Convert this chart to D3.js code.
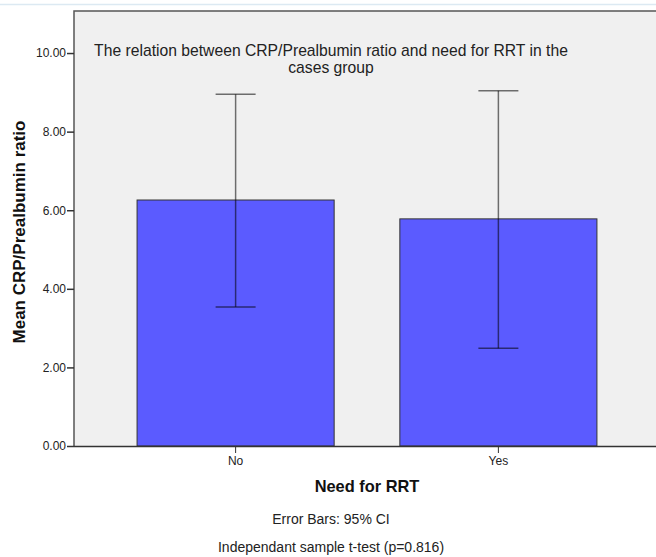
<!DOCTYPE html>
<html>
<head>
<meta charset="utf-8">
<script src="https://cdn.jsdelivr.net/npm/d3@7"></script>
<style>
  body { margin: 0; background: #fff; }
  svg { display: block; font-family: Arial, "Liberation Sans", sans-serif; }
</style>
</head>
<body>
<div id="chart"></div>
<script>
const categories = ['No', 'Yes'];
const means = [6.26, 5.78];
const ciLow = [3.54, 2.49];
const ciHigh = [8.95, 9.04];
const yTicks = [0, 2, 4, 6, 8, 10];

const width = 656, height = 557;
const plot = { left: 74, top: 11, right: 660, bottom: 446 };

var svg = d3.select('#chart').append('svg')
  .attr('width', width)
  .attr('height', height);

// thin frame line at the very top
svg.append('line')
  .attr('x1', 0).attr('x2', width)
  .attr('y1', 4.5).attr('y2', 4.5)
  .attr('stroke', '#dce9f2').attr('stroke-width', 1.5);

var xScale = d3.scaleBand()
  .domain(categories)
  .range([plot.left, plot.right])
  .paddingInner(0.25)
  .paddingOuter(0.24);

var yScale = d3.scaleLinear()
  .domain([0, 11.07])
  .range([plot.bottom, plot.top]);

// plot background
svg.append('rect')
  .attr('x', plot.left).attr('y', plot.top)
  .attr('width', plot.right - plot.left)
  .attr('height', plot.bottom - plot.top)
  .attr('fill', '#f0f0f0');

// bars
svg.selectAll('rect.bar')
  .data(categories)
  .enter().append('rect')
  .attr('class', 'bar')
  .attr('x', d => xScale(d))
  .attr('width', xScale.bandwidth())
  .attr('y', (d, i) => yScale(means[i]))
  .attr('height', (d, i) => yScale(0) - yScale(means[i]))
  .attr('fill', '#5b5bff')
  .attr('stroke', '#333')
  .attr('stroke-width', 1);

// error bars
var capHalf = 20;
var eb = svg.selectAll('g.err')
  .data(categories)
  .enter().append('g')
  .attr('class', 'err')
  .attr('stroke', 'rgba(0,0,0,0.55)')
  .attr('stroke-width', 1.5);

eb.append('line')
  .attr('x1', d => xScale(d) + xScale.bandwidth() / 2)
  .attr('x2', d => xScale(d) + xScale.bandwidth() / 2)
  .attr('y1', (d, i) => yScale(ciLow[i]))
  .attr('y2', (d, i) => yScale(ciHigh[i]));

[ciLow, ciHigh].forEach(function(arr) {
  eb.append('line')
    .attr('x1', d => xScale(d) + xScale.bandwidth() / 2 - capHalf)
    .attr('x2', d => xScale(d) + xScale.bandwidth() / 2 + capHalf)
    .attr('y1', (d, i) => yScale(arr[i]))
    .attr('y2', (d, i) => yScale(arr[i]));
});

// plot frame (left + top)
svg.append('path')
  .attr('d', `M${plot.left},${plot.bottom}V${plot.top}H${width}`)
  .attr('fill', 'none')
  .attr('stroke', '#555')
  .attr('stroke-width', 1.5);

// axes
var yAxis = svg.append('g')
  .attr('transform', `translate(${plot.left},0)`)
  .call(d3.axisLeft(yScale).tickValues(yTicks).tickFormat(d3.format('.2f'))
    .tickSizeInner(7).tickSizeOuter(0).tickPadding(1));
yAxis.select('.domain').remove();
yAxis.selectAll('line').attr('stroke', '#333').attr('stroke-width', 1.5);
yAxis.selectAll('text').attr('font-size', 12).attr('fill', '#222')
  .attr('font-family', 'Arial, "Liberation Sans", sans-serif');

var xAxis = svg.append('g')
  .attr('transform', `translate(0,${plot.bottom})`)
  .call(d3.axisBottom(xScale).tickSizeInner(7).tickSizeOuter(0).tickPadding(3));
xAxis.select('.domain').attr('stroke', '#333').attr('stroke-width', 1.5)
  .attr('d', `M${plot.left},0.5H${width}`);
xAxis.selectAll('line').attr('stroke', '#333').attr('stroke-width', 1);
xAxis.selectAll('text').attr('font-size', 12).attr('fill', '#222')
  .attr('font-family', 'Arial, "Liberation Sans", sans-serif');

// title inside plot
var title = svg.append('text')
  .attr('text-anchor', 'middle')
  .attr('font-size', 15.7)
  .attr('fill', '#222');
title.append('tspan').attr('x', 331).attr('y', 56)
  .text('The relation between CRP/Prealbumin ratio and need for RRT in the');
title.append('tspan').attr('x', 331).attr('y', 73)
  .text('cases group');

// axis titles
svg.append('text')
  .attr('transform', 'translate(25,232) rotate(-90)')
  .attr('text-anchor', 'middle')
  .attr('font-size', 17)
  .attr('font-weight', 'bold')
  .attr('fill', '#111')
  .text('Mean CRP/Prealbumin ratio');

svg.append('text')
  .attr('x', 367).attr('y', 492)
  .attr('text-anchor', 'middle')
  .attr('font-size', 16.4)
  .attr('font-weight', 'bold')
  .attr('fill', '#111')
  .text('Need for RRT');

svg.append('text')
  .attr('x', 331).attr('y', 524)
  .attr('text-anchor', 'middle')
  .attr('font-size', 14)
  .attr('fill', '#222')
  .text('Error Bars: 95% CI');

svg.append('text')
  .attr('x', 331).attr('y', 552)
  .attr('text-anchor', 'middle')
  .attr('font-size', 14)
  .attr('fill', '#222')
  .text('Independant sample t-test (p=0.816)');
</script>
</body>
</html>
